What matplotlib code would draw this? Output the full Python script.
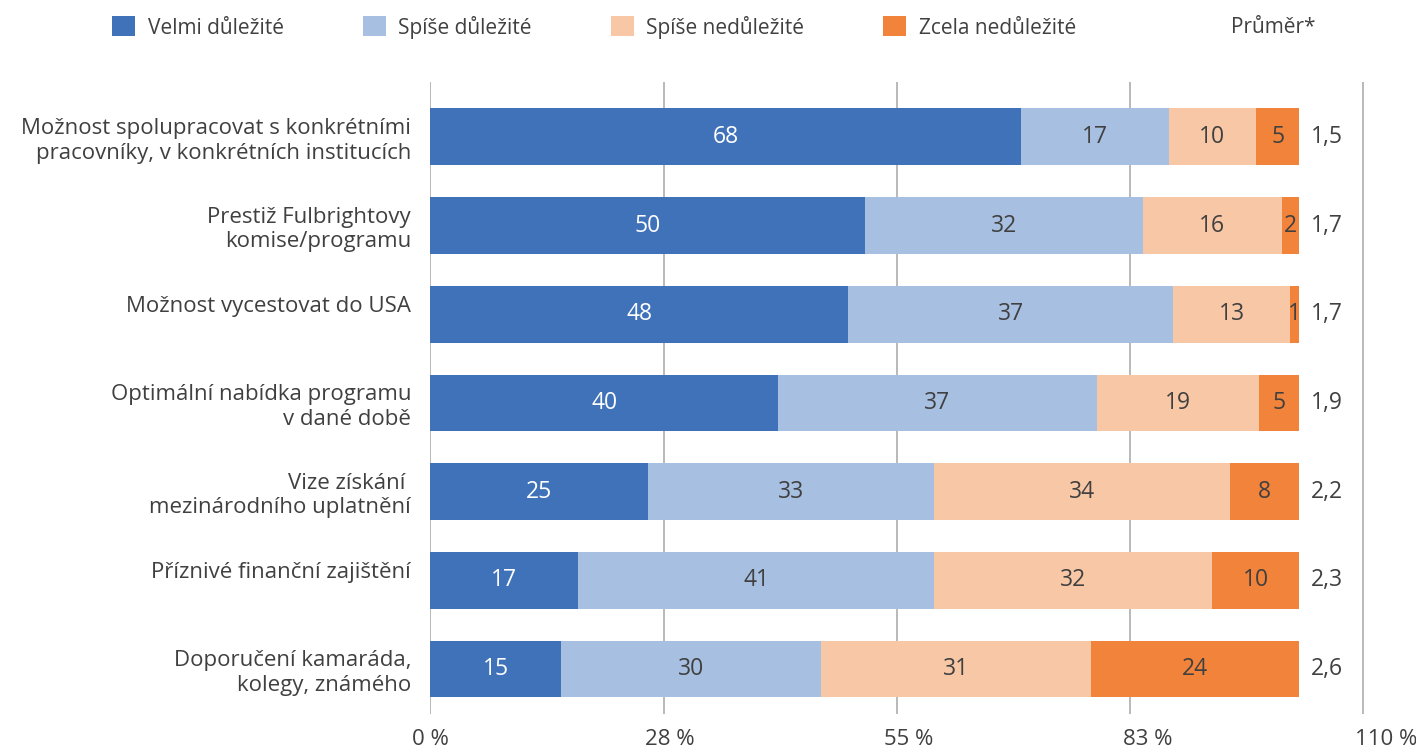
import matplotlib.pyplot as plt
import numpy as np

# data (percent of respondents)
categories = [
    "Možnost spolupracovat s konkrétními\npracovníky, v konkrétních institucích",
    "Prestiž Fulbrightovy\nkomise/programu",
    "Možnost vycestovat do USA\n",
    "Optimální nabídka programu\nv dané době",
    "Vize získání \nmezinárodního uplatnění",
    "Příznivé finanční zajištění\n",
    "Doporučení kamaráda,\nkolegy, známého",
]
velmi = [68, 50, 48.1, 40.0, 25, 17, 15]
spise = [17, 32, 37.4, 36.7, 33, 41, 30]
spise_ne = [10, 16, 13.4, 18.7, 34, 32, 31]
zcela_ne = [5, 2, 1.1, 4.6, 8, 10, 24]
prumer = ["1,5", "1,7", "1,7", "1,9", "2,2", "2,3", "2,6"]

series = [
    ("Velmi důležité", velmi, "#4072B9", "white"),
    ("Spíše důležité", spise, "#A7BFE0", "#404040"),
    ("Spíše nedůležité", spise_ne, "#F8C7A5", "#404040"),
    ("Zcela nedůležité", zcela_ne, "#F2833A", "#404040"),
]
tick_vals = [0, 27.5, 55, 82.5, 110]
tick_labels = ["0 %", "28 %", "55 %", "83 %", "110 %"]

TEXT = "#404040"
plt.rcParams["font.family"] = ["Open Sans", "DejaVu Sans"]

fig = plt.figure(figsize=(14.16, 7.51), dpi=100)
ax = fig.add_axes([0.304, 0.049, 0.675, 0.842])

y = np.arange(len(categories))
left = np.zeros(len(categories))
handles = []
for name, vals, color, tcolor in series:
    vals = np.array(vals, dtype=float)
    bars = ax.barh(y, vals, left=left, height=0.64, color=color, label=name, zorder=2)
    handles.append(bars)
    for yi, l, v in zip(y, left, vals):
        ax.text(l + v / 2, yi, f"{v:.0f}", ha="center", va="center",
                color=tcolor, fontsize=16.5, zorder=3)
    left += vals

for yi, total, p in zip(y, left, prumer):
    ax.text(total + 1.3, yi, p, ha="left", va="center", color=TEXT, fontsize=16.5)

# grid lines (drawn slightly compressed relative to the tick labels, as in the source)
for gx in np.linspace(0, 107.35, 5):
    ax.axvline(gx, color="#B3B3B3", linewidth=1.3, zorder=1)

ax.set_xlim(0, 110)
ax.set_ylim(6.51, -0.62)
ax.set_yticks(y)
ax.set_yticklabels(categories, fontsize=16, color=TEXT, linespacing=1.2)
ax.set_xticks(tick_vals)
ax.set_xticklabels(tick_labels, fontsize=16, color=TEXT)
ax.tick_params(axis="both", length=0)
ax.tick_params(axis="x", pad=11)
ax.tick_params(axis="y", pad=14)
for s in ax.spines.values():
    s.set_visible(False)

fig.legend(handles=handles, loc="center left", bbox_to_anchor=(0.066, 0.964),
           ncol=4, frameon=False, fontsize=15, handlelength=1.1, handleheight=1.1,
           handletextpad=0.6, columnspacing=3.8, labelcolor=TEXT)
fig.text(1273 / 1416, 0.964, "Průměr*", ha="center", va="center", fontsize=15, color=TEXT)

fig.savefig("out.png", dpi=100)
